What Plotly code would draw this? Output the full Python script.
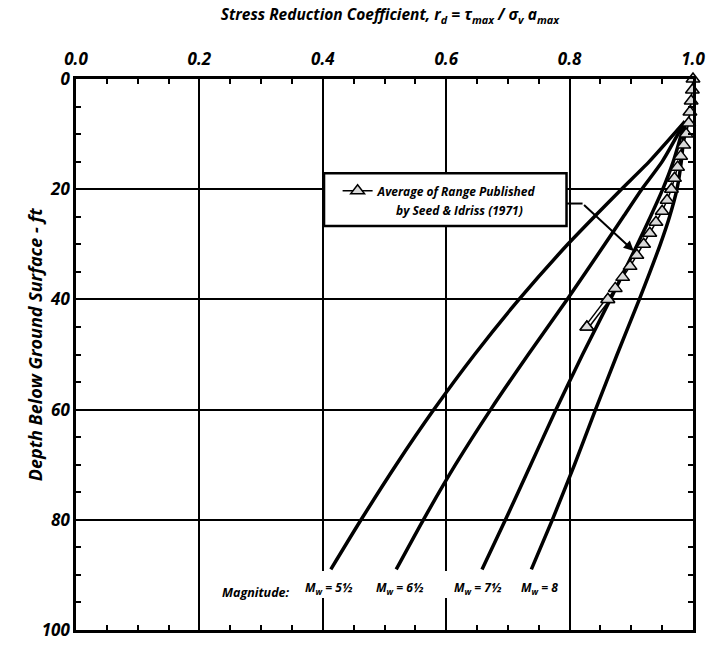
import plotly.graph_objects as go

# ---------------- data ----------------
x_tick_vals = [0.0, 0.2, 0.4, 0.6, 0.8, 1.0]
x_tick_text = ["0.0", "0.2", "0.4", "0.6", "0.8", "1.0"]
y_tick_vals = [0, 20, 40, 60, 80, 100]
y_tick_text = ["0", "20", "40", "60", "80", "100"]

curve_depth = [7.7, 15, 20, 25, 30, 40, 50, 60, 70, 80, 89]
rd_m55 = [0.987, 0.929, 0.884, 0.840, 0.797, 0.718, 0.646, 0.580, 0.519, 0.462, 0.413]
rd_m65 = [0.987, 0.950, 0.917, 0.887, 0.857, 0.796, 0.733, 0.672, 0.615, 0.563, 0.519]
rd_m75 = [0.987, 0.968, 0.951, 0.931, 0.910, 0.866, 0.821, 0.778, 0.737, 0.696, 0.658]
rd_m8 = [0.987, 0.981, 0.974, 0.962, 0.947, 0.913, 0.877, 0.842, 0.808, 0.772, 0.738]

depth_avg = [0, 2, 4, 6, 8, 10, 12, 14, 16, 18, 20, 22, 24, 26, 28, 30, 32, 34, 36, 38, 40, 45]
rd_avg = [1.000, 0.999, 0.997, 0.995, 0.993, 0.989, 0.985, 0.980, 0.975, 0.970, 0.965,
          0.958, 0.950, 0.940, 0.930, 0.920, 0.909, 0.898, 0.886, 0.874, 0.862, 0.828]

avg_name_line1 = "Average of Range Published"
avg_name_line2 = "by Seed & Idriss (1971)"

curve_labels = ["M<sub>w</sub> = 5½", "M<sub>w</sub> = 6½", "M<sub>w</sub> = 7½", "M<sub>w</sub> = 8"]
label_rd = [0.410, 0.525, 0.652, 0.752]
label_depth = 92.3

FONT = "Open Sans"
BLACK = "#000000"


def bfont(size):
    return dict(family=FONT, size=size, color=BLACK, weight="bold", style="italic")


fig = go.Figure()

for r in [rd_m55, rd_m65, rd_m75, rd_m8]:
    fig.add_trace(go.Scatter(x=r, y=curve_depth, mode="lines",
                             line=dict(color=BLACK, width=3.5, shape="spline", smoothing=0.6),
                             showlegend=False, hoverinfo="skip"))

marker_style = dict(symbol="triangle-up", size=12, color="#d9d9d9", line=dict(color=BLACK, width=1.5))

# average of range (legend entry)
fig.add_trace(go.Scatter(x=rd_avg, y=depth_avg, mode="lines+markers", name=avg_name_line1,
                         line=dict(color=BLACK, width=1.5), marker=marker_style, cliponaxis=False))
# hollow look of the last connecting segment
fig.add_trace(go.Scatter(x=rd_avg[-2:], y=depth_avg[-2:], mode="lines", line=dict(color=BLACK, width=5),
                         showlegend=False, hoverinfo="skip"))
fig.add_trace(go.Scatter(x=rd_avg[-2:], y=depth_avg[-2:], mode="lines", line=dict(color="white", width=2),
                         showlegend=False, hoverinfo="skip"))
fig.add_trace(go.Scatter(x=rd_avg[-2:], y=depth_avg[-2:], mode="markers", marker=marker_style,
                         showlegend=False, hoverinfo="skip"))

tickfont = bfont(17)

fig.update_xaxes(range=[0, 1], side="top", tickvals=x_tick_vals, ticktext=x_tick_text, tickfont=tickfont,
                 ticklabelstandoff=4,
                 showline=True, linecolor=BLACK, linewidth=3, mirror="ticks",
                 ticks="inside", ticklen=6, tickwidth=1.5, tickcolor=BLACK,
                 minor=dict(dtick=0.05, ticks="inside", ticklen=5, tickwidth=1.5, tickcolor=BLACK, showgrid=False),
                 showgrid=True, gridcolor=BLACK, gridwidth=1.5, zeroline=False)
fig.update_yaxes(range=[100, 0], tickvals=y_tick_vals, ticktext=y_tick_text, tickfont=tickfont,
                 showline=True, linecolor=BLACK, linewidth=2.5, mirror="ticks",
                 ticks="inside", ticklen=6, tickwidth=1.5, tickcolor=BLACK,
                 minor=dict(dtick=5, ticks="inside", ticklen=5, tickwidth=1.5, tickcolor=BLACK, showgrid=False),
                 showgrid=True, gridcolor=BLACK, gridwidth=1.5, zeroline=False)

annotations = []
for txt, xr in zip(curve_labels, label_rd):
    annotations.append(dict(x=xr, y=label_depth, xref="x", yref="y", text=txt, showarrow=False, font=bfont(12)))
annotations.append(dict(x=0.291, y=label_depth + 0.9, xref="x", yref="y", text="Magnitude:", showarrow=False,
                        font=bfont(12.5)))
annotations.append(dict(x=-0.0897, y=0.518, xref="paper", yref="paper", text="Depth Below Ground Surface - ft",
                        textangle=-90, showarrow=False, font=bfont(18)))
annotations.append(dict(x=0.516, y=23.8, xref="x", yref="y", xanchor="left", text=avg_name_line2,
                        showarrow=False, font=bfont(12)))
annotations.append(dict(x=0.904, y=31.2, ax=0.821, ay=22.6, xref="x", yref="y", axref="x", ayref="y",
                        text="", showarrow=True, arrowhead=2, arrowsize=1, arrowwidth=2, arrowcolor=BLACK))

shapes = [
    dict(type="rect", xref="x", yref="y", x0=0.402, x1=0.795, y0=17.1, y1=26.7, fillcolor="white",
         line=dict(color=BLACK, width=2.5), layer="above"),
    dict(type="line", xref="x", yref="y", x0=0.795, x1=0.821, y0=22.6, y1=22.6, line=dict(color=BLACK, width=2)),
    dict(type="rect", xref="x", yref="y", x0=0.39, x1=0.61, y0=89.3, y1=94.2, fillcolor="white",
         line=dict(width=0), layer="between"),
]

fig.update_layout(
    width=714, height=650,
    margin=dict(l=76, r=14, t=79, b=9),
    paper_bgcolor="white", plot_bgcolor="white",
    title=dict(text="Stress Reduction Coefficient, r<sub>d</sub> = τ<sub>max</sub> / σ<sub>v</sub> a<sub>max</sub>",
               x=0.546, xanchor="center", y=0.977, yanchor="middle", font=bfont(15.5)),
    legend=dict(x=0.424, y=0.797, xanchor="left", yanchor="middle", bgcolor="rgba(0,0,0,0)",
                borderwidth=0, font=bfont(12)),
    annotations=annotations,
    shapes=shapes,
)

fig.write_html("out.html")
